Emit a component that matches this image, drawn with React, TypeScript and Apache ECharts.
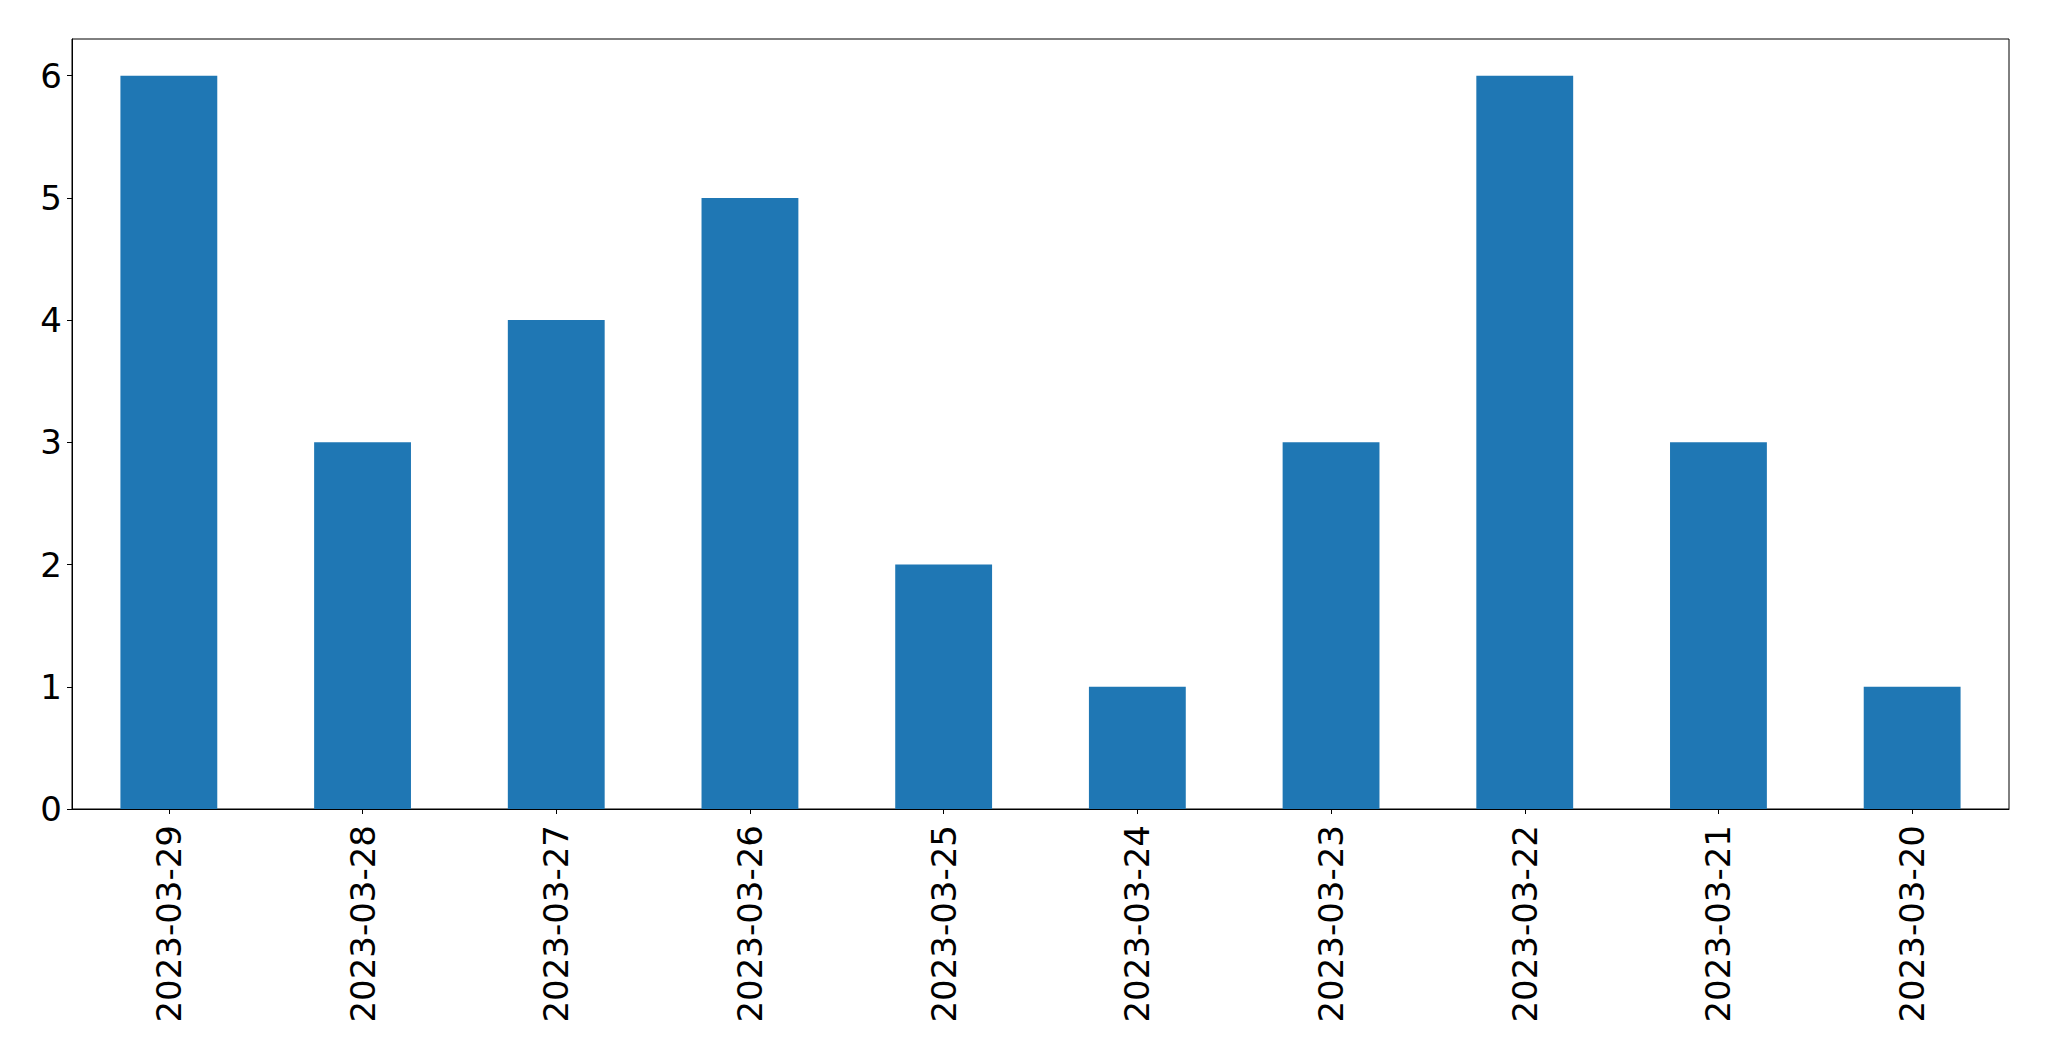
import React, { useEffect, useRef } from "react";
import * as echarts from "echarts";

const categories = [
  "2023-03-29",
  "2023-03-28",
  "2023-03-27",
  "2023-03-26",
  "2023-03-25",
  "2023-03-24",
  "2023-03-23",
  "2023-03-22",
  "2023-03-21",
  "2023-03-20",
];
const values = [6, 3, 4, 5, 2, 1, 3, 6, 3, 1];
const yTicks = [0, 1, 2, 3, 4, 5, 6];

export default function App() {
  const ref = useRef<HTMLDivElement>(null);
  useEffect(() => {
    if (!ref.current) return;
    const chart = echarts.init(ref.current, null, { renderer: "svg" });
    const font = "DejaVu Sans";
    chart.setOption({
      animation: false,
      backgroundColor: "#ffffff",
      grid: {
        left: 72,
        top: 39,
        right: 40,
        bottom: 252,
        show: true,
        borderColor: "#000000",
        borderWidth: 1,
        backgroundColor: "transparent",
      },
      xAxis: {
        type: "category",
        data: categories,
        boundaryGap: true,
        axisLine: { show: true, lineStyle: { color: "#000000", width: 1 } },
        axisTick: { show: true, alignWithLabel: true, length: 5, lineStyle: { color: "#000000", width: 1 } },
        axisLabel: {
          rotate: 90,
          margin: 16,
          color: "#000000",
          fontFamily: font,
          fontSize: 34,
          interval: 0,
        },
        splitLine: { show: false },
      },
      yAxis: {
        type: "value",
        min: 0,
        max: 6.3,
        interval: 1,
        axisLine: { show: true, lineStyle: { color: "#000000", width: 1 } },
        axisTick: { show: true, length: 5, customValues: yTicks, lineStyle: { color: "#000000", width: 1 } },
        axisLabel: {
          margin: 10,
          color: "#000000",
          fontFamily: font,
          fontSize: 34,
          customValues: yTicks,
        },
        splitLine: { show: false },
      },
      series: [
        {
          type: "bar",
          data: values,
          barWidth: "50%",
          itemStyle: { color: "#1f77b4" },
        },
      ],
    });
    return () => chart.dispose();
  }, []);
  return (
    <div
      ref={ref}
      style={{ position: "fixed", left: 0, top: 0, width: 2049, height: 1061, background: "#fff" }}
    />
  );
}
